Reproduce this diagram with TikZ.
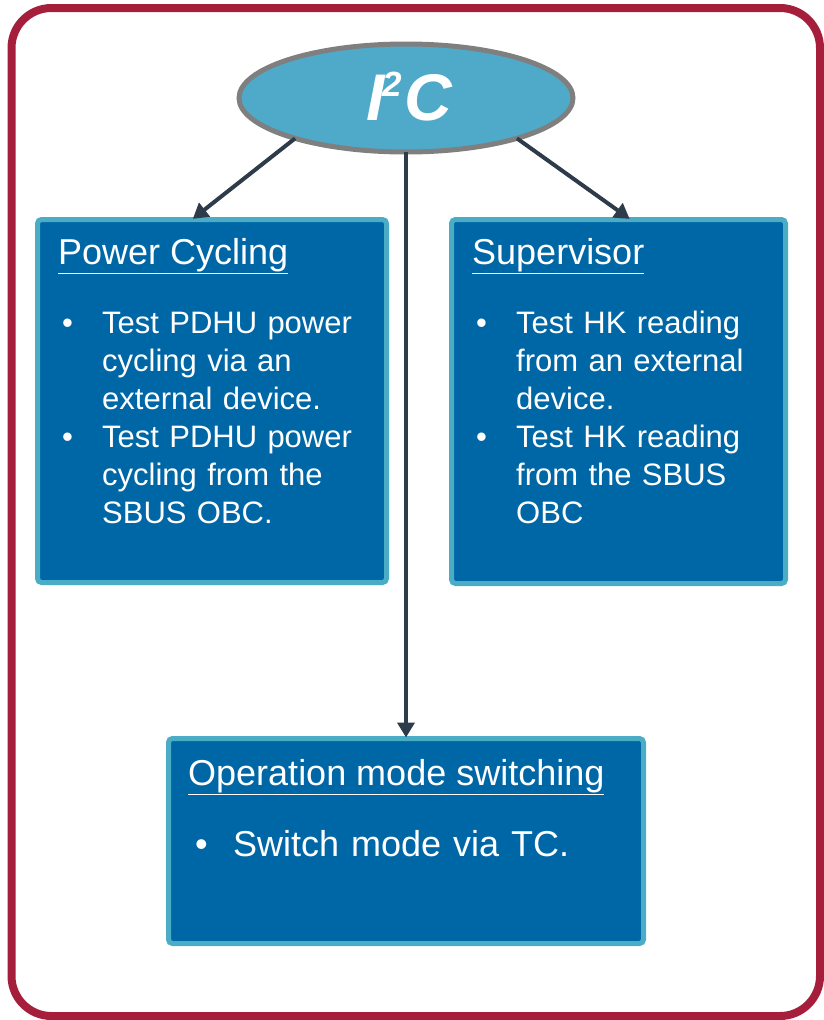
\documentclass[tikz,border=0pt]{standalone}
\usepackage{fontspec}
\setmainfont{Liberation Sans}
\usetikzlibrary{positioning, arrows.meta, shapes.geometric}

\definecolor{framered}{HTML}{A51F3C}
\definecolor{ellblue}{HTML}{4FA9C8}
\definecolor{ellgray}{HTML}{7F7F7F}
\definecolor{boxblue}{HTML}{0067A7}
\definecolor{boxedge}{HTML}{4BACC6}
\definecolor{arrowdark}{HTML}{2E3B4A}

\newcommand{\bul}{\makebox[44pt][l]{\hspace{4pt}\textbullet}}
\newcommand{\ind}{\hspace*{44pt}}

\begin{document}
\begin{tikzpicture}[
    x=1pt, y=-1pt,
    frame/.style={draw=framered, line width=8pt, rounded corners=40pt},
    bus/.style={ellipse, draw=ellgray, fill=ellblue, line width=5pt, inner sep=0pt, outer sep=0pt,
        minimum width=334pt, minimum height=108pt},
    testbox/.style={rectangle, draw=boxedge, fill=boxblue, line width=5pt, rounded corners=4pt,
        inner sep=0pt, outer sep=0pt, anchor=north west},
    title/.style={anchor=base west, inner sep=0pt, text=white, font=\fontsize{36}{40}\selectfont},
    body/.style={anchor=base west, inner sep=0pt, text=white, align=left, text width=300pt,
        font=\fontsize{31}{38}\selectfont},
    conn/.style={draw=arrowdark, line width=4pt, -{Triangle[length=15pt,width=17pt]}, shorten >=1pt}
]
\useasboundingbox (0,0) rectangle (823,1020);

% outer frame
\draw[frame] (11.5,8) rectangle (820,1016);

% bus
\node[bus] (i2c) at (406,98) {};
\node[anchor=base west, inner sep=0pt, text=white, font=\fontsize{66}{66}\selectfont\bfseries\itshape]
    (i2clabel) at (366,120) {I\hspace{-2pt}\raisebox{24pt}{\fontsize{35}{35}\selectfont 2}\hspace{2pt}C};

% boxes
\node[testbox, minimum width=349pt, minimum height=363pt] (pcbox) at (37.5,219.5) {};
\node[testbox, minimum width=334pt, minimum height=364pt] (svbox) at (451.5,219.5) {};
\node[testbox, minimum width=475pt, minimum height=205pt] (opbox) at (168.5,738.5) {};

% box texts
\node[title] (pctitle) at (58,264) {\underline{Power Cycling}};
\node[body] (pctext) at (58,333) {\bul Test PDHU power\\ \ind cycling via an\\ \ind external device.\\
    \bul Test PDHU power\\ \ind cycling from the\\ \ind SBUS OBC.};

\node[title] (svtitle) at (472,264) {\underline{Supervisor}};
\node[body] (svtext) at (472,333) {\bul Test HK reading\\ \ind from an external\\ \ind device.\\
    \bul Test HK reading\\ \ind from the SBUS\\ \ind OBC};

\node[title] (optitle) at (188,785) {\underline{Operation mode switching}};
\node[body, font=\fontsize{36}{40}\selectfont, text width=420pt] (optext) at (191,856)
    {\makebox[42pt][l]{\hspace{4pt}\textbullet}Switch mode via TC.};

% connectors
\draw[conn] (i2c.200) -- ([xshift=-20pt]pcbox.north);
\draw[conn] (i2c.340) -- ([xshift=12pt]svbox.north);
\draw[conn] (i2c.south) -- (opbox.north);

\end{tikzpicture}
\end{document}
